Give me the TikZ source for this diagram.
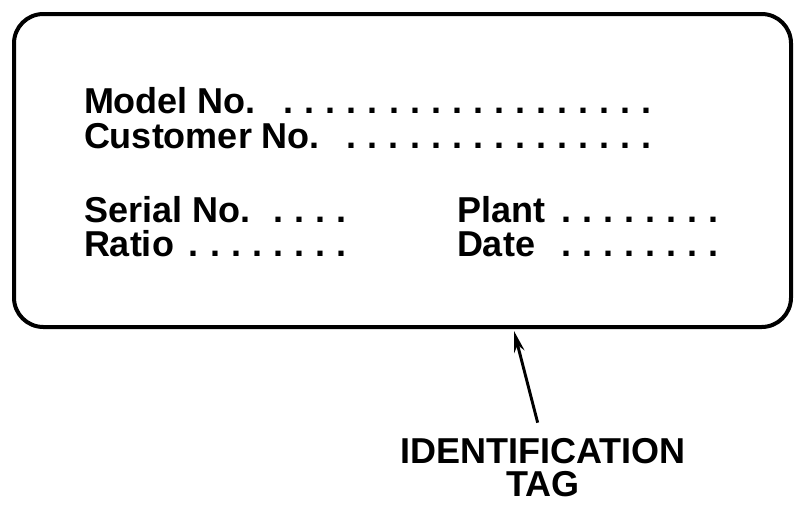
\documentclass[tikz,border=0pt]{standalone}
\usepackage{fontspec}
\setmainfont{Liberation Sans}
\usetikzlibrary{arrows.meta}
% a row of spaced dots, and a label padded out with them
\newcommand\dotrow[1]{\foreach \k in {1,...,#1}{\makebox[15.8pt]{.}}}
\newcommand\tagentry[3]{\makebox[#1][l]{#2\hfill\dotrow{#3}}}

\begin{document}
\begin{tikzpicture}[x=0.75pt, y=-0.75pt, line width=3pt,
  field/.style={font=\fontsize{27}{30}\selectfont\bfseries, inner sep=0pt, anchor=base west}]
  \useasboundingbox (0,0) rectangle (800,507);
  % the tag itself
  \draw[rounded corners=22pt] (14,14) rectangle (791,327);
  \node[field] (model) at (82,113) {\tagentry{430pt}{Model No.}{18}};
  \node[field] (customer) at (82,148) {\tagentry{430pt}{Customer No.}{15}};
  \node[field] (serial) at (82,222) {\tagentry{201pt}{Serial No.}{4}};
  \node[field] (ratio) at (82,256) {\tagentry{201pt}{Ratio}{8}};
  \node[field] (plant) at (455,222) {\tagentry{200.6pt}{Plant}{8}};
  \node[field] (date) at (455,256) {\tagentry{200.6pt}{Date}{8}};
  % callout
  \node[font=\fontsize{27}{24.75}\selectfont\bfseries, align=center, inner sep=0pt, anchor=north]
    (tag) at (543,436) {IDENTIFICATION\\TAG};
  \coordinate (tip) at (514,331);
  \draw[-{Stealth[length=16pt, width=8pt]}, line width=2.2pt] ([xshift=-4pt, yshift=10pt]tag.north) -- (tip);
\end{tikzpicture}
\end{document}
